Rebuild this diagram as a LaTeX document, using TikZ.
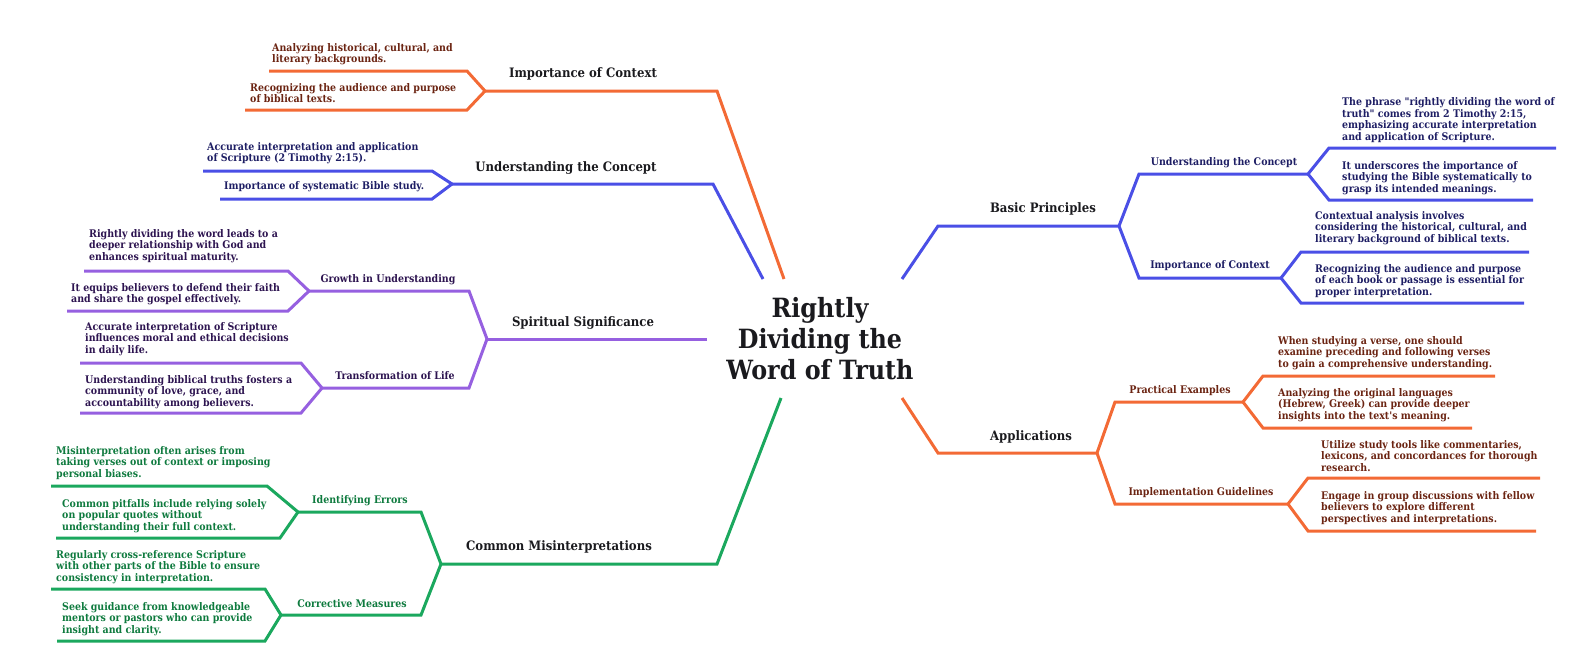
\documentclass[tikz,border=0pt]{standalone}
\usepackage{fontspec}
\newfontfamily\mapfont{DejaVu Serif}[FakeStretch=0.9]
\definecolor{ornline}{RGB}{243,106,53}
\definecolor{bluline}{RGB}{74,79,230}
\definecolor{purline}{RGB}{150,96,224}
\definecolor{grnline}{RGB}{27,168,94}
\definecolor{orntext}{RGB}{107,36,18}
\definecolor{blutext}{RGB}{30,30,100}
\definecolor{purtext}{RGB}{45,20,80}
\definecolor{grntext}{RGB}{14,122,62}
\definecolor{inkblack}{RGB}{26,26,30}
\tikzset{
  leaf/.style={anchor=west, align=left, inner sep=0pt,
    font=\mapfont\bfseries\fontsize{10.5}{11.6}\selectfont},
  twig/.style={inner sep=0pt, font=\mapfont\bfseries\fontsize{10.5}{12}\selectfont},
  limb/.style={inner sep=0pt, text=inkblack,
    font=\mapfont\bfseries\fontsize{13}{15}\selectfont},
  wire/.style={line width=3pt, line join=miter}
}
\begin{document}
\begin{tikzpicture}[x=1pt, y=-1pt]
  \useasboundingbox (0,0) rectangle (1575,656);

  %% Central topic
  \node[align=center, inner sep=0pt, text=inkblack,
    font=\mapfont\bfseries\fontsize{26.5}{31}\selectfont] (root) at (820,339)
    {Rightly\\Dividing the\\Word of Truth};

  %% ---------------- Importance of Context (left, orange)
  \coordinate (ctxL) at (485,91);
  \coordinate (ctxLa) at (269,71);
  \coordinate (ctxLb) at (245,110);
  \draw[wire, ornline] (784,279) -- (717,91) -- (ctxL);
  \draw[wire, ornline] (ctxL) -- (467,71) -- (ctxLa);
  \draw[wire, ornline] (ctxL) -- (467,110) -- (ctxLb);
  \node[limb] (ctxLlab) at (583,74) {Importance of Context};
  \node[leaf, text=orntext] (ctxLt1) at (272,54)
    {Analyzing historical, cultural, and\\literary backgrounds.};
  \node[leaf, text=orntext] (ctxLt2) at (250,93)
    {Recognizing the audience and purpose\\of biblical texts.};

  %% ---------------- Understanding the Concept (left, blue)
  \coordinate (undL) at (452,184);
  \coordinate (undLa) at (203,171);
  \coordinate (undLb) at (220,199);
  \draw[wire, bluline] (763,279) -- (713,184) -- (undL);
  \draw[wire, bluline] (undL) -- (432,171) -- (undLa);
  \draw[wire, bluline] (undL) -- (432,199) -- (undLb);
  \node[limb] (undLlab) at (566,168) {Understanding the Concept};
  \node[leaf, text=blutext] (undLt1) at (207,153)
    {Accurate interpretation and application\\of Scripture (2 Timothy 2:15).};
  \node[leaf, text=blutext] (undLt2) at (224,187)
    {Importance of systematic Bible study.};

  %% ---------------- Spiritual Significance (left, purple)
  \coordinate (spi) at (487,339);
  \coordinate (gro) at (309,291);
  \coordinate (tra) at (322,388);
  \draw[wire, purline] (707,339) -- (spi);
  \draw[wire, purline] (spi) -- (469,291) -- (gro);
  \draw[wire, purline] (spi) -- (469,388) -- (tra);
  \draw[wire, purline] (gro) -- (288,271) -- (84,271);
  \draw[wire, purline] (gro) -- (288,311) -- (67,311);
  \draw[wire, purline] (tra) -- (301,363) -- (80,363);
  \draw[wire, purline] (tra) -- (301,413) -- (80,413);
  \node[limb] (spilab) at (583,323) {Spiritual Significance};
  \node[twig, text=purtext] (grolab) at (388,280) {Growth in Understanding};
  \node[twig, text=purtext] (tralab) at (395,376) {Transformation of Life};
  \node[leaf, text=purtext] (grot1) at (89,246)
    {Rightly dividing the word leads to a\\deeper relationship with God and\\enhances spiritual maturity.};
  \node[leaf, text=purtext] (grot2) at (71,294)
    {It equips believers to defend their faith\\and share the gospel effectively.};
  \node[leaf, text=purtext] (trat1) at (85,339)
    {Accurate interpretation of Scripture\\influences moral and ethical decisions\\in daily life.};
  \node[leaf, text=purtext] (trat2) at (85,392)
    {Understanding biblical truths fosters a\\community of love, grace, and\\accountability among believers.};

  %% ---------------- Common Misinterpretations (left, green)
  \coordinate (mis) at (441,564);
  \coordinate (ide) at (298,512);
  \coordinate (cor) at (281,615);
  \draw[wire, grnline] (781,398) -- (717,564) -- (mis);
  \draw[wire, grnline] (mis) -- (421,512) -- (ide);
  \draw[wire, grnline] (mis) -- (421,615) -- (cor);
  \draw[wire, grnline] (ide) -- (267,486) -- (51,486);
  \draw[wire, grnline] (ide) -- (280,538) -- (56,538);
  \draw[wire, grnline] (cor) -- (265,589) -- (51,589);
  \draw[wire, grnline] (cor) -- (265,641) -- (57,641);
  \node[limb] (mislab) at (559,547) {Common Misinterpretations};
  \node[twig, text=grntext] (idelab) at (360,501) {Identifying Errors};
  \node[twig, text=grntext] (corlab) at (352,604) {Corrective Measures};
  \node[leaf, text=grntext] (idet1) at (56,463)
    {Misinterpretation often arises from\\taking verses out of context or imposing\\personal biases.};
  \node[leaf, text=grntext] (idet2) at (62,516)
    {Common pitfalls include relying solely\\on popular quotes without\\understanding their full context.};
  \node[leaf, text=grntext] (cort1) at (56,567)
    {Regularly cross-reference Scripture\\with other parts of the Bible to ensure\\consistency in interpretation.};
  \node[leaf, text=grntext] (cort2) at (62,619)
    {Seek guidance from knowledgeable\\mentors or pastors who can provide\\insight and clarity.};

  %% ---------------- Basic Principles (right, blue)
  \coordinate (bas) at (1119,226);
  \coordinate (undR) at (1308,174);
  \coordinate (ctxR) at (1281,278);
  \draw[wire, bluline] (902,279) -- (938,226) -- (bas);
  \draw[wire, bluline] (bas) -- (1139,174) -- (undR);
  \draw[wire, bluline] (bas) -- (1139,278) -- (ctxR);
  \draw[wire, bluline] (undR) -- (1329,148) -- (1556,148);
  \draw[wire, bluline] (undR) -- (1329,200) -- (1533,200);
  \draw[wire, bluline] (ctxR) -- (1301,252) -- (1529,252);
  \draw[wire, bluline] (ctxR) -- (1301,303) -- (1524,303);
  \node[limb] (baslab) at (1043,209) {Basic Principles};
  \node[twig, text=blutext] (undRlab) at (1224,163) {Understanding the Concept};
  \node[twig, text=blutext] (ctxRlab) at (1210,266) {Importance of Context};
  \node[leaf, text=blutext] (undRt1) at (1342,120)
    {The phrase "rightly dividing the word of\\truth" comes from 2 Timothy 2:15,\\emphasizing accurate interpretation\\and application of Scripture.};
  \node[leaf, text=blutext] (undRt2) at (1342,178)
    {It underscores the importance of\\studying the Bible systematically to\\grasp its intended meanings.};
  \node[leaf, text=blutext] (ctxRt1) at (1315,228)
    {Contextual analysis involves\\considering the historical, cultural, and\\literary background of biblical texts.};
  \node[leaf, text=blutext] (ctxRt2) at (1315,281)
    {Recognizing the audience and purpose\\of each book or passage is essential for\\proper interpretation.};

  %% ---------------- Applications (right, orange)
  \coordinate (app) at (1097,453);
  \coordinate (pra) at (1243,402);
  \coordinate (imp) at (1288,504);
  \draw[wire, ornline] (902,398) -- (938,453) -- (app);
  \draw[wire, ornline] (app) -- (1115,402) -- (pra);
  \draw[wire, ornline] (app) -- (1115,504) -- (imp);
  \draw[wire, ornline] (pra) -- (1263,376) -- (1495,376);
  \draw[wire, ornline] (pra) -- (1263,428) -- (1472,428);
  \draw[wire, ornline] (imp) -- (1308,478) -- (1540,478);
  \draw[wire, ornline] (imp) -- (1308,531) -- (1536,531);
  \node[limb] (applab) at (1031,437) {Applications};
  \node[twig, text=orntext] (pralab) at (1180,391) {Practical Examples};
  \node[twig, text=orntext] (implab) at (1201,493) {Implementation Guidelines};
  \node[leaf, text=orntext] (prat1) at (1278,353)
    {When studying a verse, one should\\examine preceding and following verses\\to gain a comprehensive understanding.};
  \node[leaf, text=orntext] (prat2) at (1278,405)
    {Analyzing the original languages\\(Hebrew, Greek) can provide deeper\\insights into the text's meaning.};
  \node[leaf, text=orntext] (impt1) at (1321,456)
    {Utilize study tools like commentaries,\\lexicons, and concordances for thorough\\research.};
  \node[leaf, text=orntext] (impt2) at (1321,508)
    {Engage in group discussions with fellow\\believers to explore different\\perspectives and interpretations.};
\end{tikzpicture}
\end{document}
